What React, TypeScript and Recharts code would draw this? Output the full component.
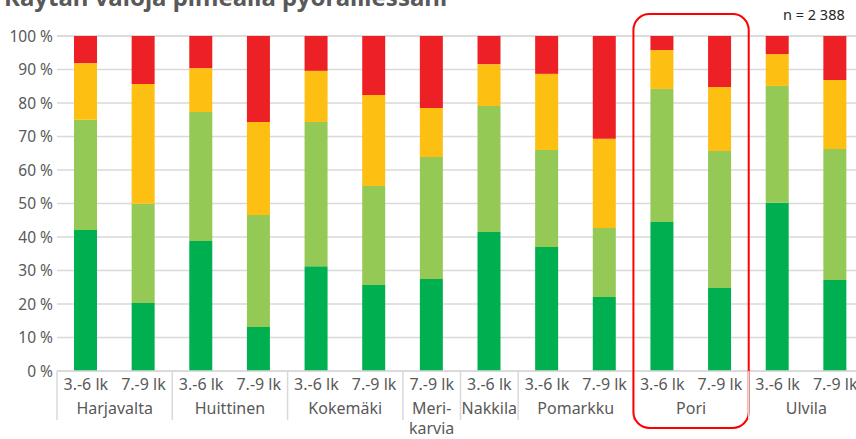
import React from 'react';
import { BarChart, Bar, XAxis, YAxis, CartesianGrid } from 'recharts';

const towns = ['Harjavalta', 'Harjavalta', 'Huittinen', 'Huittinen', 'Kokemäki', 'Kokemäki', 'Merikarvia', 'Nakkila', 'Pomarkku', 'Pomarkku', 'Pori', 'Pori', 'Ulvila', 'Ulvila'];
const grades = ['3.-6 lk', '7.-9 lk', '3.-6 lk', '7.-9 lk', '3.-6 lk', '7.-9 lk', '7.-9 lk', '3.-6 lk', '3.-6 lk', '7.-9 lk', '3.-6 lk', '7.-9 lk', '3.-6 lk', '7.-9 lk'];
// hyphenated labels as in the original
const townLines: Record<string, string[]> = { Merikarvia: ['Meri-', 'karvia'] };

const aina = [42.1, 20.3, 38.8, 13.1, 31.3, 25.7, 27.5, 41.5, 37.0, 22.1, 44.5, 24.8, 50.2, 27.2];
const usein = [32.9, 29.6, 38.5, 33.5, 43.0, 29.5, 36.4, 37.6, 29.0, 20.6, 39.7, 40.9, 34.9, 39.1];
const joskus = [16.9, 35.8, 13.1, 27.7, 15.3, 27.2, 14.6, 12.5, 22.7, 26.6, 11.6, 19.1, 9.5, 20.6];
const enKoskaan = [8.1, 14.3, 9.6, 25.7, 10.4, 17.6, 21.5, 8.4, 11.3, 30.7, 4.2, 15.2, 5.4, 13.1];

const yTicks = [0, 10, 20, 30, 40, 50, 60, 70, 80, 90, 100];
const highlighted = 'Pori';

const data = towns.map((t, i) => ({
  key: `${t} ${grades[i]}`,
  aina: aina[i],
  usein: usein[i],
  joskus: joskus[i],
  enKoskaan: enKoskaan[i],
}));

const FONT = '"Noto Sans", sans-serif';
const GREY = '#595959';

const AxisTick = (props: any) => {
  const { x, y, payload, index } = props;
  const i = index ?? payload.index;
  const half = payload.offset || 28.8;
  const town = towns[i];
  const first = i === 0 || towns[i - 1] !== town;
  const last = i === towns.length - 1;
  let n = 0;
  while (towns[i + n] === town) n++;
  const lines = townLines[town] || [town];
  return (
    <g>
      <text x={x} y={y + 19} textAnchor="middle" fill={GREY} fontSize={16} fontFamily={FONT}>
        {grades[i]}
      </text>
      {first && <line x1={x - half} x2={x - half} y1={y} y2={y + 49} stroke="#d9d9d9" strokeWidth={1.5} />}
      {last && <line x1={x + half} x2={x + half} y1={y} y2={y + 49} stroke="#d9d9d9" strokeWidth={1.5} />}
      {first &&
        lines.map((l, k) => (
          <text key={k} x={x + (n - 1) * half} y={y + 43 + k * 20} textAnchor="middle" fill={GREY} fontSize={16} fontFamily={FONT}>
            {l}
          </text>
        ))}
      {first && town === highlighted && (
        <rect x={x - half} y={y - 357} width={n * 2 * half} height={414} rx={16} ry={16} fill="none" stroke="#ff0000" strokeWidth={2} />
      )}
    </g>
  );
};

export default function App() {
  return (
    <div style={{ position: 'absolute', left: 0, top: 0, width: 856, height: 439, overflow: 'hidden', background: '#fff', fontFamily: FONT }}>
      <div style={{ position: 'absolute', left: 4, top: -20, fontSize: 24, fontWeight: 700, color: GREY, whiteSpace: 'nowrap' }}>
        Käytän valoja pimeällä pyöräillessäni
      </div>
      <div style={{ position: 'absolute', left: 783, top: 4, fontSize: 14.5, color: '#262626', whiteSpace: 'nowrap' }}>
        n = 2 388
      </div>
      <BarChart width={870} height={439} data={data} margin={{ top: 36, right: 6, bottom: 8, left: 0 }} barSize={23}>
        <CartesianGrid vertical={false} stroke="#d9d9d9" strokeWidth={1.5} />
        <XAxis
          dataKey="key"
          interval={0}
          height={60}
          tickLine={false}
          tickSize={0}
          tickMargin={0}
          axisLine={{ stroke: '#d9d9d9', strokeWidth: 1.5 }}
          tick={<AxisTick />}
        />
        <YAxis
          width={57}
          domain={[0, 100]}
          ticks={yTicks}
          axisLine={false}
          tickLine={false}
          tickSize={0}
          tickMargin={4}
          tickFormatter={(v) => `${v} %`}
          tick={{ fill: GREY, fontSize: 15.5, fontFamily: FONT }}
        />
        <Bar dataKey="aina" stackId="a" fill="#00b050" isAnimationActive={false} />
        <Bar dataKey="usein" stackId="a" fill="#94c955" isAnimationActive={false} />
        <Bar dataKey="joskus" stackId="a" fill="#fdbf11" isAnimationActive={false} />
        <Bar dataKey="enKoskaan" stackId="a" fill="#ed2125" isAnimationActive={false} />
      </BarChart>
    </div>
  );
}
